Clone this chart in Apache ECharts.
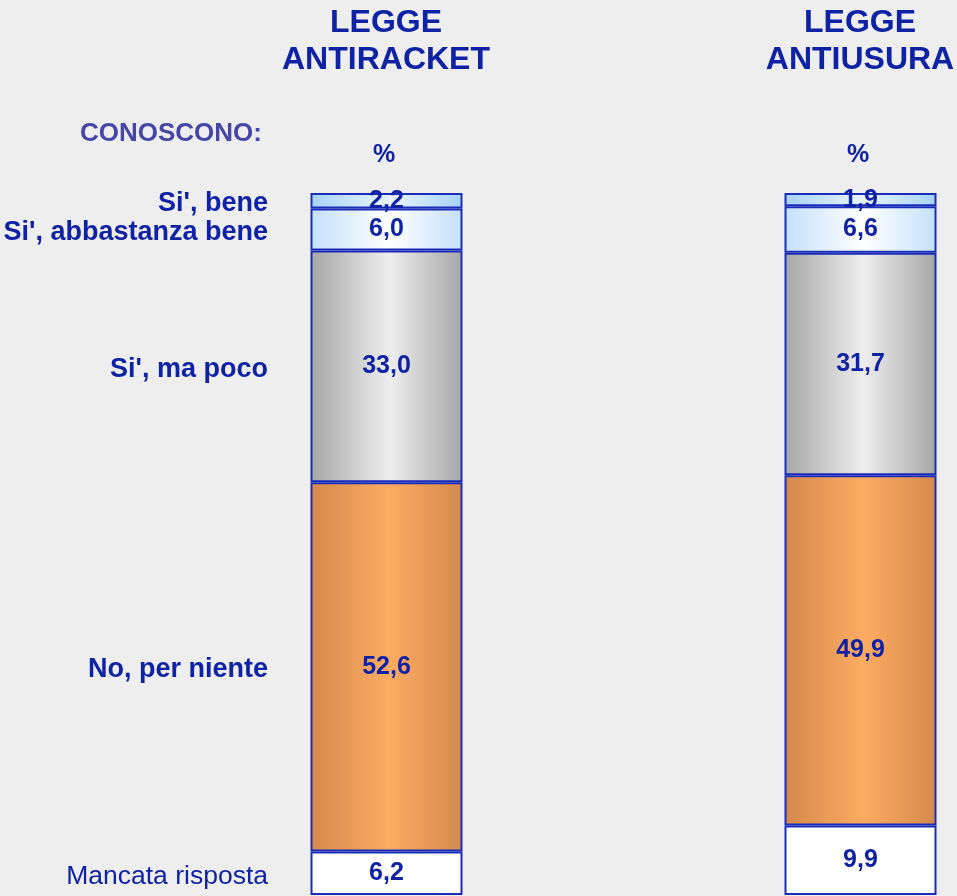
<!DOCTYPE html>
<html>
<head>
<meta charset="utf-8">
<script src="https://cdn.jsdelivr.net/npm/echarts@6/dist/echarts.min.js"></script>
<style>
  html, body { margin: 0; padding: 0; background: #eeeeee; }
  #chart { width: 957px; height: 896px; }
</style>
</head>
<body>
<div id="chart"></div>
<script>
// data
const laws = ['LEGGE\nANTIRACKET', 'LEGGE\nANTIUSURA'];
const answers = ["Si', bene", "Si', abbastanza bene", "Si', ma poco", 'No, per niente', 'Mancata risposta'];
const antiracket = [2.2, 6.0, 33.0, 52.6, 6.2];
const antiusura = [1.9, 6.6, 31.7, 49.9, 9.9];

const blue = '#0f22a6';
const font = "'Liberation Sans', Arial, sans-serif";
const grad = (edge, mid) => new echarts.graphic.LinearGradient(0, 0, 1, 0, [
  { offset: 0, color: edge }, { offset: 0.52, color: mid }, { offset: 1, color: edge }
]);
const fills = [
  grad('#a6d2fa', '#e8f4ff'),
  grad('#c4e0fb', '#ffffff'),
  grad('#a6a6a6', '#eeeeee'),
  grad('#d38a4d', '#fdab62'),
  '#ffffff'
];

const myChart = echarts.init(document.getElementById('chart'));

const series = answers.map((name, i) => ({
  name: name,
  type: 'bar',
  stack: 'tot',
  barWidth: 152,
  data: [antiracket[i], antiusura[i]],
  itemStyle: { color: fills[i], borderColor: '#1a2cb8', borderWidth: 2 },
  label: {
    show: true,
    position: 'inside',
    color: blue,
    fontFamily: font,
    fontWeight: 'bold',
    fontSize: 25,
    formatter: p => p.value.toFixed(1).replace('.', ',')
  }
}));

// answer labels on the left, at the middle of each segment of the first bar
let acc = 0;
const mids = antiracket.map(v => { const m = acc + v / 2; acc += v; return [0, m]; });
series.push({
  type: 'scatter',
  symbolSize: 1,
  itemStyle: { color: 'rgba(0,0,0,0)', opacity: 1 },
  silent: true,
  data: mids.map((m, i) => ({
    value: m,
    label: {
      fontWeight: i === 4 ? 'normal' : 'bold',
      fontSize: i === 4 ? 26.5 : 27
    }
  })),
  label: {
    show: true,
    position: 'left',
    distance: 118,
    offset: [0, 3],
    color: blue,
    fontFamily: font,
    formatter: p => answers[p.dataIndex]
  },
  z: 5
});

const titleText = { color: blue, fontFamily: font, fontWeight: 'bold' };

const option = {
  backgroundColor: '#eeeeee',
  animation: false,
  title: [
    { text: laws[0], left: 386, top: 5, padding: 0, textAlign: 'center',
      textStyle: Object.assign({ fontSize: 32, lineHeight: 37, align: 'center' }, titleText) },
    { text: laws[1], left: 860, top: 5, padding: 0, textAlign: 'center',
      textStyle: Object.assign({ fontSize: 32, lineHeight: 37, align: 'center' }, titleText) },
    { text: 'CONOSCONO:', left: 262, top: 121, padding: 0, textAlign: 'right',
      textStyle: Object.assign({}, titleText, { color: '#4646a6', fontSize: 26 }) },
    { text: '%', left: 384, top: 143, padding: 0, textAlign: 'center',
      textStyle: Object.assign({ fontSize: 25 }, titleText) },
    { text: '%', left: 858, top: 143, padding: 0, textAlign: 'center',
      textStyle: Object.assign({ fontSize: 25 }, titleText) }
  ],
  // categories sit on the grid edges, so the two bars land at 386 and 860
  grid: { left: 386.5, top: 193, width: 474, height: 702 },
  xAxis: {
    type: 'category',
    data: laws,
    boundaryGap: false,
    show: false
  },
  yAxis: {
    type: 'value',
    min: 0,
    max: 100,
    inverse: true,
    show: false
  },
  series: series
};

myChart.setOption(option);
</script>
</body>
</html>
